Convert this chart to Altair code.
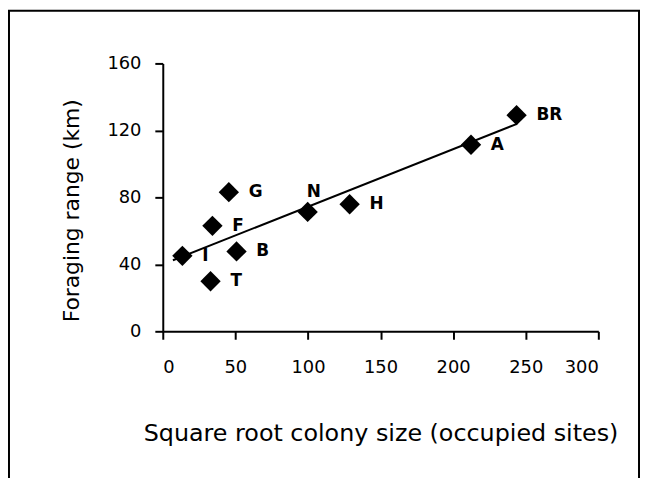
import altair as alt
import pandas as pd

labels = ["I", "T", "F", "G", "B", "N", "H", "A", "BR"]
colony = [13.5, 32.9, 34.2, 45.5, 50.8, 99.8, 128.7, 212.3, 243.7]
foraging = [45.1, 29.9, 63.0, 83.1, 47.7, 71.3, 75.9, 111.4, 129.1]
x_ticks = [0, 50, 100, 150, 200, 250, 300]
y_ticks = [0, 40, 80, 120, 160]

df = pd.DataFrame({"label": labels, "x": colony, "y": foraging})

FONT = "DejaVu Sans"
xs = alt.Scale(domain=[0, 300], nice=False, zero=True)
ys = alt.Scale(domain=[0, 160], nice=False, zero=True)

axis_common = dict(
    grid=False, domainColor="black", domainWidth=2, tickColor="black",
    tickWidth=2, tickSize=8, labelFont=FONT, labelFontSize=18,
    labelColor="black", titleFont=FONT,
    titleFontWeight="normal", titleColor="black",
)

xenc = alt.X("x:Q", scale=xs, axis=alt.Axis(
    values=x_ticks, title="Square root colony size (occupied sites)",
    labelPadding=20, titleY=110, titleBaseline="alphabetic",
    titleFontSize=24, **axis_common))
yenc = alt.Y("y:Q", scale=ys, axis=alt.Axis(
    values=y_ticks, title="Foraging range (km)", labelPadding=14,
    titleX=-92, titleY=148, titleAngle=270, titleAlign="center",
    titleBaseline="middle", titleFontSize=22, **axis_common))

base = alt.Chart(df)

points = base.mark_point(shape="diamond", filled=True, color="black",
                         size=420, opacity=1).encode(x=xenc, y=yenc)

line = base.transform_regression("x", "y", extent=[7, 244]).mark_line(
    color="black", strokeWidth=2).encode(
    x=alt.X("x:Q", scale=xs), y=alt.Y("y:Q", scale=ys))

txt = base.transform_filter(alt.datum.label != "N").mark_text(
    align="left", baseline="middle", dx=20, font=FONT, fontSize=17,
    fontWeight="bold", color="black").encode(
    x=alt.X("x:Q", scale=xs), y=alt.Y("y:Q", scale=ys), text="label:N")

txt_n = base.transform_filter(alt.datum.label == "N").mark_text(
    align="left", baseline="middle", dx=-1, dy=-20, font=FONT, fontSize=17,
    fontWeight="bold", color="black").encode(
    x=alt.X("x:Q", scale=xs), y=alt.Y("y:Q", scale=ys), text="label:N")

border = alt.Chart(pd.DataFrame({"a": [0]})).mark_rect(
    fillOpacity=0, stroke="black", strokeWidth=2).encode(
    x=alt.value(-155), x2=alt.value(480), y=alt.value(-53), y2=alt.value(460))

chart = alt.layer(points, line, txt, txt_n, border).properties(
    width=439, height=270,
    autosize=alt.AutoSizeParams(type="none"),
    padding={"left": 156, "top": 54, "right": 42, "bottom": 146},
).configure_view(strokeWidth=0)

chart.save("out.html", embed_options={"renderer": "svg", "actions": False})
